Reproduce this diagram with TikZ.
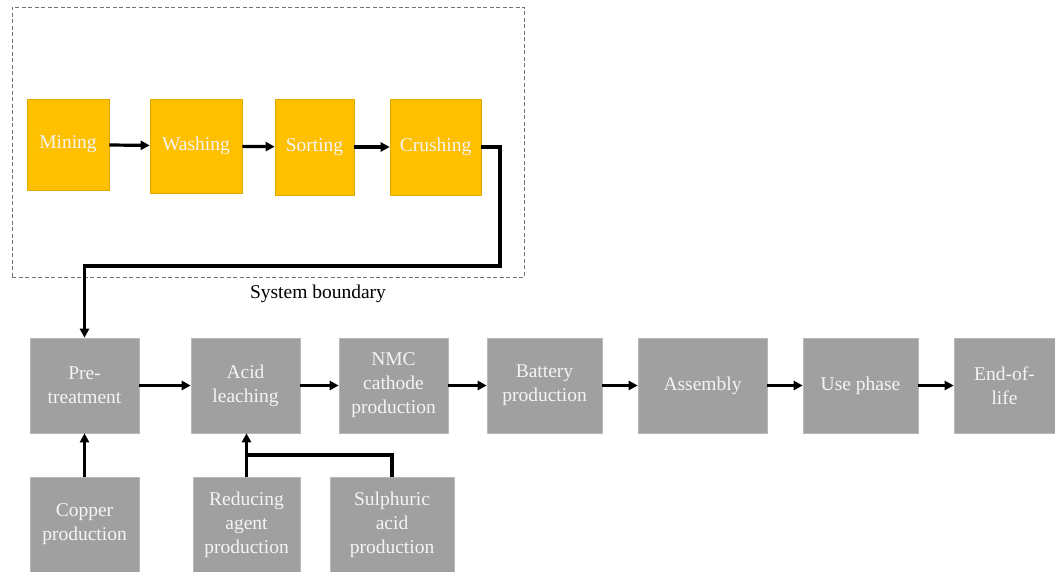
\documentclass[tikz,border=0pt]{standalone}
\usepackage{fontspec}
\setmainfont{Liberation Serif}
\usetikzlibrary{arrows.meta}
\definecolor{boxyellow}{HTML}{FFC000}
\definecolor{yellowedge}{HTML}{E0A800}
\definecolor{boxgray}{HTML}{A0A0A0}
\definecolor{grayedge}{HTML}{B8B8B8}
\definecolor{boxtext}{HTML}{F4F4F4}
\tikzset{
  ybox/.style={fill=boxyellow, draw=yellowedge, line width=0.6pt, text=boxtext, align=center, inner sep=0pt,
    font=\fontsize{19.5}{24}\selectfont},
  gbox/.style={fill=boxgray, draw=grayedge, line width=0.6pt, text=boxtext, align=center, inner sep=0pt,
    font=\fontsize{19.5}{24}\selectfont},
  arr/.style={line width=3.2pt, -{Triangle[length=9pt,width=9pt]}},
  plain/.style={line width=3.2pt},
  boundary/.style={draw=black!55, dash pattern=on 4pt off 2.5pt, line width=0.7pt}
}
\begin{document}
\begin{tikzpicture}[x=1pt,y=-1pt]
\useasboundingbox (0,0) rectangle (1055,572);
% system boundary
\node[boundary, minimum width=512pt, minimum height=270pt, inner sep=0pt] (sb) at (268,142) {};
\node[font=\fontsize{19.5}{24}\selectfont] (sbl) at (318,294) {System boundary};
% yellow row
\node[ybox, minimum width=82pt, minimum height=91pt] (mine) at (68,144.5) {Mining};
\node[ybox, minimum width=92pt, minimum height=94pt] (wash) at (196,146) {Washing};
\node[ybox, minimum width=79pt, minimum height=96pt] (sort) at (314.5,147) {Sorting};
\node[ybox, minimum width=91pt, minimum height=96pt] (crush) at (435.5,147) {Crushing};
% gray main row
\node[gbox, minimum width=109pt, minimum height=95pt] (pre) at (84.5,385.5) {Pre-\\treatment};
\node[gbox, minimum width=109pt, minimum height=95pt] (acid) at (245.5,385.5) {Acid\\leaching};
\node[gbox, minimum width=109pt, minimum height=95pt] (nmc) at (393.5,385.5) {NMC\\cathode\\production};
\node[gbox, minimum width=115pt, minimum height=95pt] (bat) at (544.5,385.5) {Battery\\production};
\node[gbox, minimum width=129pt, minimum height=95pt] (asm) at (702.5,385.5) {Assembly};
\node[gbox, minimum width=115pt, minimum height=95pt] (use) at (860.5,385.5) {Use phase};
\node[gbox, minimum width=101pt, minimum height=95pt] (eol) at (1004.5,385.5) {End-of-\\life};
% gray bottom row
\node[gbox, minimum width=109pt, minimum height=95pt] (cu) at (84.5,524.5) {Copper\\production};
\node[gbox, minimum width=107pt, minimum height=95pt] (red) at (246.5,524.5) {Reducing\\agent\\production};
\node[gbox, minimum width=124pt, minimum height=95pt] (sul) at (392,524.5) {Sulphuric\\acid\\production};
% connectors
\draw[arr] (mine) -- (wash);
\draw[arr] (wash) -- (sort);
\draw[arr] (sort) -- (crush);
\coordinate (bend) at (500,266);
\draw[arr] (crush.east) -| (bend) -| (pre.north);
\draw[arr] (pre) -- (acid);
\draw[arr] (acid) -- (nmc);
\draw[arr] (nmc) -- (bat);
\draw[arr] (bat) -- (asm);
\draw[arr] (asm) -- (use);
\draw[arr] (use) -- (eol);
\draw[arr] (cu) -- (pre);
\draw[arr] (red.north) -- (red.north |- acid.south);
\coordinate (join) at (246.5,455);
\draw[plain] (sul.north) |- (join);
\end{tikzpicture}
\end{document}
